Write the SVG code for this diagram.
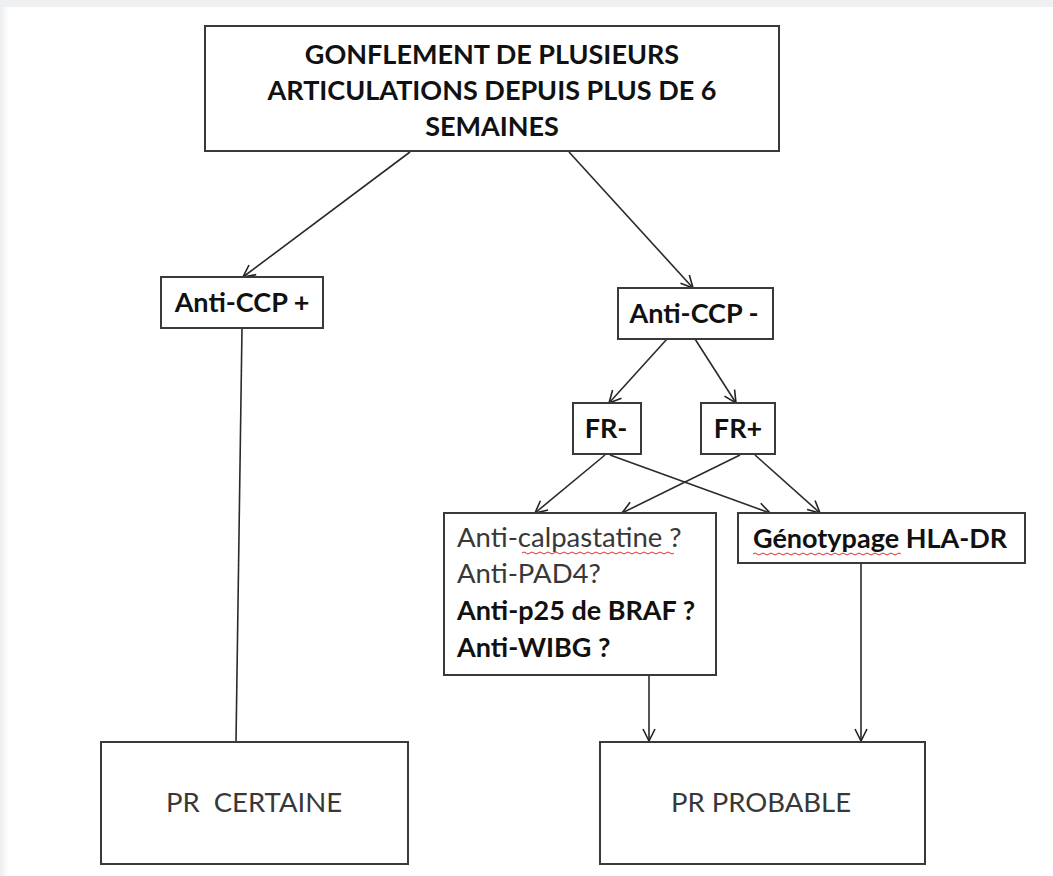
<svg xmlns="http://www.w3.org/2000/svg" width="1053" height="876" viewBox="0 0 1053 876">
  <defs>
    <linearGradient id="leftEdge" x1="0" y1="0" x2="1" y2="0">
      <stop offset="0" stop-color="#eceeef"/>
      <stop offset="1" stop-color="#ffffff"/>
    </linearGradient>
    <marker id="arrow" markerUnits="userSpaceOnUse" markerWidth="16" markerHeight="16" viewBox="-14 -8 16 16" refX="0" refY="0" orient="auto">
      <path d="M-12,-6 L0,0 L-12,6" fill="none" stroke="#222" stroke-width="1.6"/>
    </marker>
    <style>
      .box { fill: #ffffff; stroke: #3a3a3a; stroke-width: 2; }
      .link { fill: none; stroke: #2a2a2a; stroke-width: 1.6; }
      .arrow { marker-end: url(#arrow); }
      .bold { font-family: Lato, "Open Sans", sans-serif; font-weight: bold; font-size: 27px; fill: #111; }
      .reg { font-family: Lato, "Open Sans", sans-serif; font-size: 27.5px; fill: #383838; }
      .mid { text-anchor: middle; }
      .pre { white-space: pre; }
      .wavy { fill: none; stroke: #e03030; stroke-width: 1; }
    </style>
  </defs>

  <!-- page background with light grey frame edges -->
  <rect x="0" y="0" width="1053" height="876" fill="#ffffff"/>
  <rect x="0" y="0" width="1053" height="7" fill="#eef0f1"/>
  <rect x="0" y="7" width="9" height="869" fill="url(#leftEdge)"/>

  <!-- connectors -->
  <g id="connectors">
    <line class="link arrow" x1="410" y1="152" x2="243" y2="277"/>
    <line class="link arrow" x1="569" y1="152" x2="693" y2="288"/>
    <line class="link" x1="242" y1="328" x2="236" y2="742" stroke="#555" stroke-width="2"/>
    <line class="link arrow" x1="667" y1="339" x2="609" y2="403"/>
    <line class="link arrow" x1="695" y1="339" x2="736" y2="403"/>
    <line class="link arrow" x1="605" y1="455" x2="535" y2="513"/>
    <line class="link arrow" x1="610" y1="455" x2="770" y2="513"/>
    <line class="link arrow" x1="740" y1="455" x2="622" y2="513"/>
    <line class="link arrow" x1="755" y1="455" x2="820" y2="513"/>
    <line class="link arrow" x1="649" y1="676" x2="649" y2="741"/>
    <line class="link arrow" x1="861" y1="564" x2="861" y2="741"/>
  </g>

  <g id="node-gonflement">
    <rect class="box" x="205" y="26" width="574" height="125"/>
    <text class="bold mid" x="492" y="64">GONFLEMENT DE PLUSIEURS</text>
    <text class="bold mid" x="492" y="100">ARTICULATIONS DEPUIS PLUS DE 6</text>
    <text class="bold mid" x="492" y="136">SEMAINES</text>
  </g>

  <g id="node-anticcp-pos">
    <rect class="box" x="161" y="277" width="162" height="51"/>
    <text class="bold mid" x="242" y="312">Anti-CCP +</text>
  </g>

  <g id="node-anticcp-neg">
    <rect class="box" x="618" y="288" width="155" height="51"/>
    <text class="bold mid" x="694" y="323">Anti-CCP -</text>
  </g>

  <g id="node-fr-neg">
    <rect class="box" x="573" y="403" width="68" height="51"/>
    <text class="bold mid" x="606" y="438">FR-</text>
  </g>

  <g id="node-fr-pos">
    <rect class="box" x="701" y="403" width="74" height="51"/>
    <text class="bold mid" x="738" y="438">FR+</text>
  </g>

  <g id="node-anticorps">
    <rect class="box" x="444" y="513" width="272" height="162"/>
    <text class="reg" x="457" y="547">Anti-calpastatine ?</text>
    <path class="wavy" d="M522,553 q2,-2 4,0 t4,0 t4,0 t4,0 t4,0 t4,0 t4,0 t4,0 t4,0 t4,0 t4,0 t4,0 t4,0 t4,0 t4,0 t4,0 t4,0 t4,0 t4,0 t4,0 t4,0 t4,0 t4,0 t4,0 t4,0 t4,0 t4,0 t4,0 t4,0 t4,0 t4,0 t4,0 t4,0 t4,0 t4,0 t4,0 t4,0 t4,0"/>
    <text class="reg" x="457" y="583">Anti-PAD4?</text>
    <text class="bold" x="457" y="620">Anti-p25 de BRAF ?</text>
    <text class="bold" x="457" y="657">Anti-WIBG ?</text>
  </g>

  <g id="node-genotypage">
    <rect class="box" x="738" y="513" width="287" height="50"/>
    <text class="bold" x="753" y="548">Génotypage HLA-DR</text>
    <path class="wavy" d="M753,554 q2,-2 4,0 t4,0 t4,0 t4,0 t4,0 t4,0 t4,0 t4,0 t4,0 t4,0 t4,0 t4,0 t4,0 t4,0 t4,0 t4,0 t4,0 t4,0 t4,0 t4,0 t4,0 t4,0 t4,0 t4,0 t4,0 t4,0 t4,0 t4,0 t4,0 t4,0 t4,0 t4,0 t4,0 t4,0 t4,0 t4,0 t4,0"/>
  </g>

  <g id="node-pr-certaine">
    <rect class="box" x="101" y="742" width="307" height="122"/>
    <text class="reg mid pre" x="254" y="812" xml:space="preserve">PR  CERTAINE</text>
  </g>

  <g id="node-pr-probable">
    <rect class="box" x="600" y="742" width="325" height="122"/>
    <text class="reg mid" x="761" y="812">PR PROBABLE</text>
  </g>
</svg>
